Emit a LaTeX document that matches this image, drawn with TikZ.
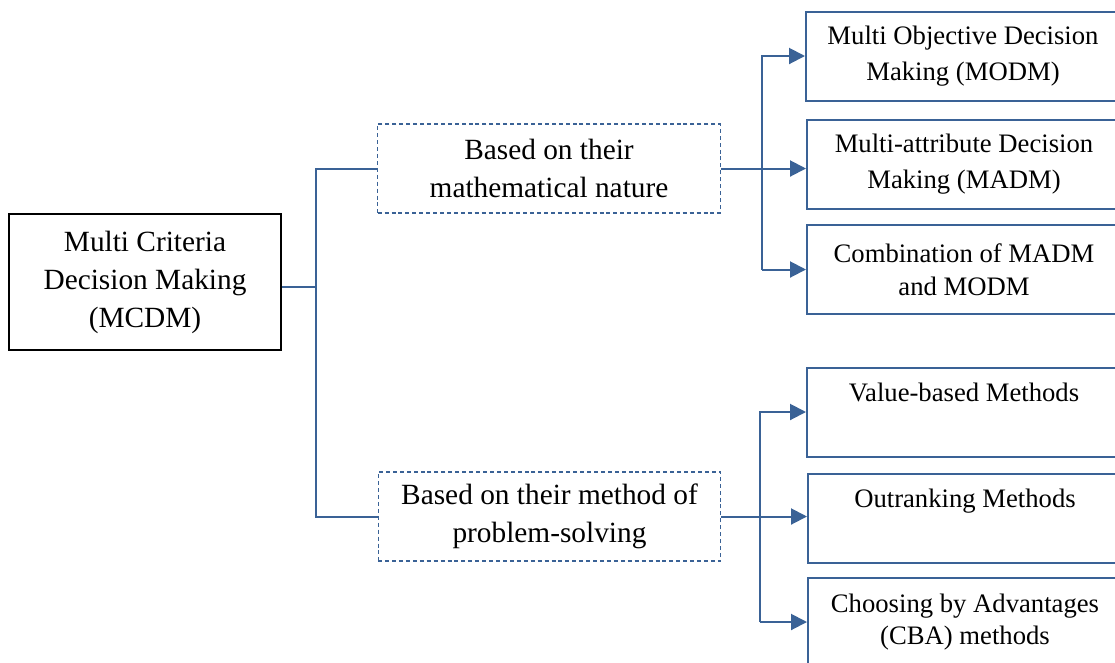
\documentclass[tikz,border=0pt]{standalone}
\usepackage{fontspec}
\setmainfont{Liberation Serif}
\usetikzlibrary{arrows.meta,positioning}
\definecolor{lineblue}{RGB}{58,98,150}

\begin{document}
\begin{tikzpicture}[x=0.75pt,y=-0.75pt,
    mainbox/.style={draw=black,line width=1.5pt,minimum width=204pt,minimum height=102pt,align=center,font=\fontsize{22}{28.5}\selectfont},
    groupbox/.style={draw=lineblue,line width=0.8pt,dash pattern=on 3pt off 2.2pt,minimum width=257pt,minimum height=66.75pt,align=center,font=\fontsize{22}{28.5}\selectfont},
    methodbox/.style={draw=lineblue,line width=1.5pt,minimum width=235.5pt,minimum height=66.75pt,align=center,font=\fontsize{20}{27}\selectfont},
    topline/.style={text height=14pt,text depth=30.5pt},
    link/.style={draw=lineblue,line width=1.5pt},
    arr/.style={link,-{Triangle[length=12pt,width=12pt]}}]
        \useasboundingbox (0,0) rectangle (1115,662);

        \node[mainbox] (mcdm) at (145,282) {Multi Criteria\\Decision Making\\(MCDM)};

        \node[groupbox] (nat) at (549,168.5) {Based on their\\mathematical nature};
        \node[groupbox] (prob) at (549.5,516.5) {Based on their method of\\problem-solving};

        \node[methodbox] (modm) at (963,56) {Multi Objective Decision\\Making (MODM)};
        \node[methodbox] (madm) at (964,164) {Multi-attribute Decision\\Making (MADM)};
        \node[methodbox,font=\fontsize{20}{25}\selectfont] (comb) at (964,269.5) {Combination of MADM\\and MODM};

        \node[methodbox,topline] (val) at (964,412) {Value-based Methods};
        \node[methodbox,topline] (outr) at (965,518.5) {Outranking Methods};
        \node[methodbox,font=\fontsize{20}{23.5}\selectfont] (cba) at (965,622) {Choosing by Advantages\\(CBA) methods};

        % junctions
        \coordinate (jl) at (316,287);
        \coordinate (jt) at (762,167.5);
        \coordinate (jb) at (759.5,519);

        \draw[link] (mcdm.east |- jl) -- (jl);
        \draw[link] (nat.west) -| (jl) |- (prob.west);

        \draw[arr] (jt |- comb.west) -- (jt |- modm.west) -- (modm.west);
        \draw[arr] (jt |- comb.west) -- (comb.west);
        \draw[arr] (nat.east) -- (nat.east -| madm.west);

        \draw[arr] (jb |- cba.west) -- (jb |- val.west) -- (val.west);
        \draw[arr] (jb |- cba.west) -- (cba.west);
        \draw[arr] (prob.east) -- (prob.east -| outr.west);
\end{tikzpicture}
\end{document}
